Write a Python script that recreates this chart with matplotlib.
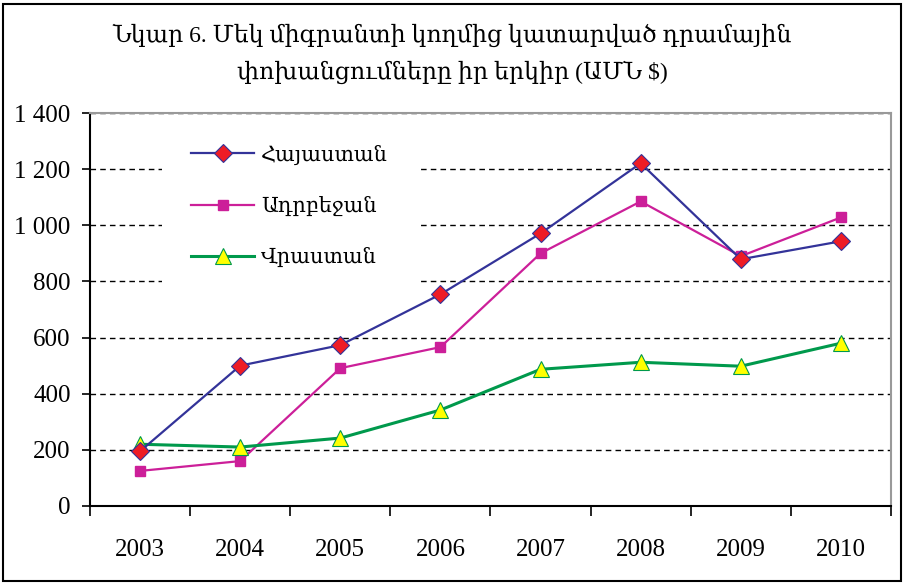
import matplotlib
matplotlib.use("Agg")
import matplotlib.pyplot as plt
from matplotlib.patches import Rectangle
from matplotlib.ticker import FuncFormatter

plt.rcParams['font.family'] = ['Liberation Serif', 'DejaVu Serif']

years = ['2003', '2004', '2005', '2006', '2007', '2008', '2009', '2010']
armenia = [195, 500, 573, 754, 971, 1221, 879, 943]
azerbaijan = [125, 160, 491, 566, 900, 1085, 890, 1028]
georgia = [220, 210, 242, 342, 487, 512, 498, 580]

names = ['Հայաստան', 'Ադրբեջան', 'Վրաստան']
title1 = 'Նկար 6. Մեկ միգրանտի կողմից կատարված դրամային'
title2 = 'փոխանցումները իր երկիր (ԱՄՆ $)'

fig = plt.figure(figsize=(9.04, 5.84), dpi=100)
ax = fig.add_axes([90/904, 1-506/584, 801/904, 393/584])

x = list(range(len(years)))
ax.plot(x, armenia, color='#333399', lw=1.6, marker='D', ms=9,
        mfc='#ee1c25', mec='#333399', mew=0.8, label=names[0], zorder=4)
ax.plot(x, azerbaijan, color='#cc1f99', lw=1.6, marker='s', ms=7,
        mfc='#cc1f99', mec='#cc1f99', label=names[1], zorder=3)
ax.plot(x, georgia, color='#00994c', lw=2.2, marker='^', ms=11,
        mfc='#ffff00', mec='#00994c', mew=0.8, label=names[2], zorder=3)

ax.set_ylim(0, 1400)
ax.set_xlim(-0.5, len(years) - 0.5)
ax.set_yticks(range(0, 1401, 200))
ax.yaxis.set_major_formatter(FuncFormatter(lambda v, p: f"{int(v):,}".replace(",", " ")))
ax.tick_params(axis='y', labelsize=18, length=6, width=1.2, direction='out', pad=8)

ax.set_xticks([i - 0.5 for i in range(len(years) + 1)])
ax.set_xticklabels([])
ax.tick_params(axis='x', which='major', length=7, width=1.2, direction='out')
ax.set_xticks(x, minor=True)
ax.set_xticklabels(years, minor=True)
ax.tick_params(axis='x', which='minor', length=0, labelsize=18, pad=24)

ax.grid(axis='y', color='black', ls=(0, (4, 3)), lw=1)
ax.set_axisbelow(True)
for s in ['top', 'right']:
    ax.spines[s].set_color('#999999')
    ax.spines[s].set_linewidth(1.5)
for s in ['left', 'bottom']:
    ax.spines[s].set_color('black')
    ax.spines[s].set_linewidth(1.5)

leg = ax.legend(loc='upper left', bbox_to_anchor=(0.09, 0.992), fontsize=15,
                frameon=True, facecolor='white', edgecolor='none', framealpha=1,
                fancybox=False, handlelength=3.0, handletextpad=0.35,
                labelspacing=1.5, borderpad=1.4, borderaxespad=0)
leg.set_zorder(5)

fig.text(0.5, 1-35/584, title1, ha='center', va='center', fontsize=17)
fig.text(0.5, 1-72/584, title2, ha='center', va='center', fontsize=17)

fig.patches.append(Rectangle((3/904, 3/584), 898/904, 577/584, transform=fig.transFigure,
                             fill=False, ec='black', lw=1.5))

fig.savefig('out.png', dpi=100)
